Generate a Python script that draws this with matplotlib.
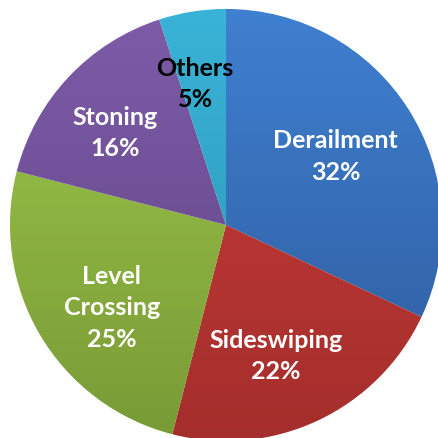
import numpy as np
import matplotlib
matplotlib.use("Agg")
import matplotlib.pyplot as plt
from matplotlib.colors import LinearSegmentedColormap

# data
causes = ["Derailment", "Sideswiping", "Level\nCrossing", "Stoning", "Others"]
shares = [32, 22, 25, 16, 5]

# top / bottom shades of each slice (Excel-style gradient)
top_colors = ["#3f80d0", "#c93d39", "#9fc84b", "#7e5ca8", "#39b3d8"]
bottom_colors = ["#2d5a9c", "#a42e2c", "#789a36", "#5e4484", "#2a93ae"]
text_colors = ["white", "white", "white", "white", "black"]
# label placement: radius fraction and angle nudge (deg) from wedge middle
label_dist = [0.60, 0.645, 0.65, 0.67, 0.673]
label_nudge = [0, -4.2, 5.1, 3.2, 3.3]

fig = plt.figure(figsize=(4.38, 4.39), dpi=100)
ax = fig.add_axes([0, 0, 1, 1])

wedges, _ = ax.pie(shares, startangle=90, counterclock=False, radius=1.0,
                   wedgeprops=dict(linewidth=0))

# vertical gradient clipped to each wedge
grad = np.linspace(1, 0, 256).reshape(-1, 1)
for w, c1, c2 in zip(wedges, top_colors, bottom_colors):
    w.set_facecolor("none")
    cmap = LinearSegmentedColormap.from_list("g", [c2, c1])
    im = ax.imshow(grad, cmap=cmap, extent=[-1, 1, -1, 1], aspect="auto",
                   origin="upper", zorder=w.get_zorder() - 0.1)
    im.set_clip_path(w)

# labels
for w, name, val, col, d, nd in zip(wedges, causes, shares, text_colors,
                                    label_dist, label_nudge):
    ang = np.deg2rad((w.theta1 + w.theta2) / 2 + nd)
    x, y = d * np.cos(ang), d * np.sin(ang)
    ax.text(x, y, f"{name}\n{val}%", ha="center", va="center", color=col,
            fontsize=18, fontweight="bold", family=["Lato", "DejaVu Sans"],
            linespacing=1.45)

ax.set_xlim(-1.046, 0.981)
ax.set_ylim(-0.986, 1.046)
ax.set_aspect("equal")
ax.axis("off")

fig.savefig("out.png", dpi=100, facecolor="white")
